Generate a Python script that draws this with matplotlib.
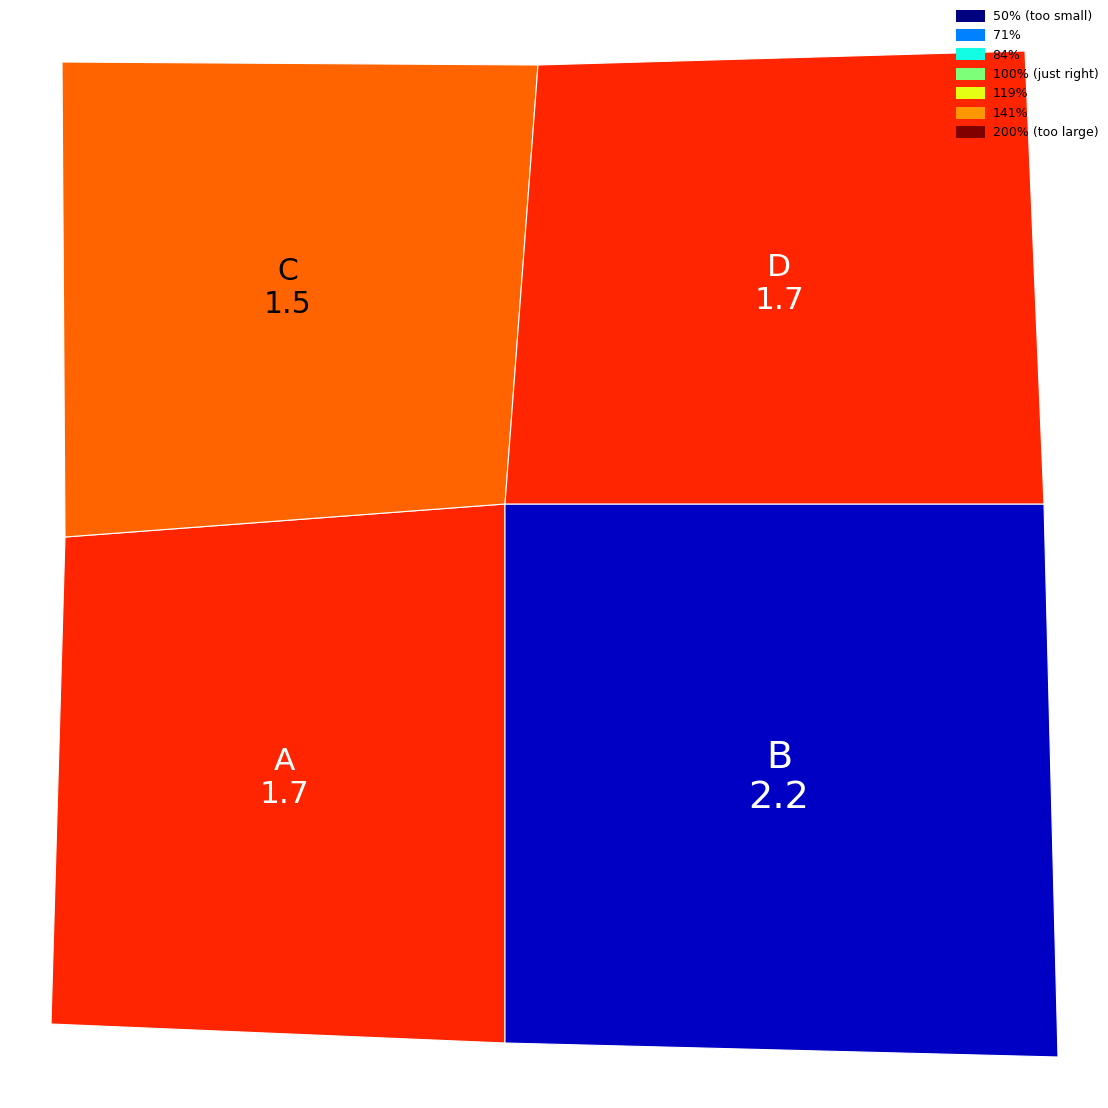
import matplotlib
matplotlib.use("Agg")
import matplotlib.pyplot as plt
from matplotlib.patches import Polygon, Patch
import numpy as np

# Region data
names = ["A", "B", "C", "D"]
values = [1.7, 2.2, 1.5, 1.7]
area_ratio = [1.67, 0.543, 1.52, 1.67]  # drawn area / desired area
text_colors = ["white", "white", "black", "white"]
font_sizes = [22.5, 27.5, 21.5, 22.5]

# Cartogram polygon outlines (pixel-space data coordinates)
shapes = {
    "A": [(65, 537), (505, 504), (505, 1043), (51, 1024)],
    "B": [(505, 504), (1044, 504), (1058, 1057), (505, 1043)],
    "C": [(62, 62), (538, 65), (505, 504), (65, 537)],
    "D": [(538, 65), (1025, 51), (1044, 504), (505, 504)],
}
label_pos = {"A": (284, 778), "B": (779, 778), "C": (288, 288), "D": (779, 284)}

legend_ratios = [0.5, 0.71, 0.84, 1.0, 1.19, 1.41, 2.0]
legend_labels = ["50% (too small)", "71%", "84%", "100% (just right)", "119%", "141%", "200% (too large)"]

cmap = plt.get_cmap("jet")
def ratio_color(r):
    return cmap((np.log2(r) + 1) / 2)

fig = plt.figure(figsize=(11.08, 11.08), dpi=100)
ax = fig.add_axes([0, 0, 1, 1])
ax.set_xlim(0, 1108)
ax.set_ylim(1108, 0)
ax.axis("off")

for name, val, r, tc, fs in zip(names, values, area_ratio, text_colors, font_sizes):
    poly = Polygon(shapes[name], closed=True, facecolor=ratio_color(r),
                   edgecolor="white", linewidth=0.8)
    ax.add_patch(poly)
    x, y = label_pos[name]
    ax.text(x, y, f"{name}\n{val}", ha="center", va="center", color=tc,
            fontsize=fs, linespacing=1.15)

handles = [Patch(facecolor=ratio_color(r), edgecolor="none") for r in legend_ratios]
fig.legend(handles, legend_labels, loc="upper right", bbox_to_anchor=(0.998, 0.998),
           frameon=False, fontsize=9, handlelength=2.3, handleheight=1.1,
           labelspacing=0.49, handletextpad=0.6, borderaxespad=0.2)

fig.savefig("out.png", dpi=100)
